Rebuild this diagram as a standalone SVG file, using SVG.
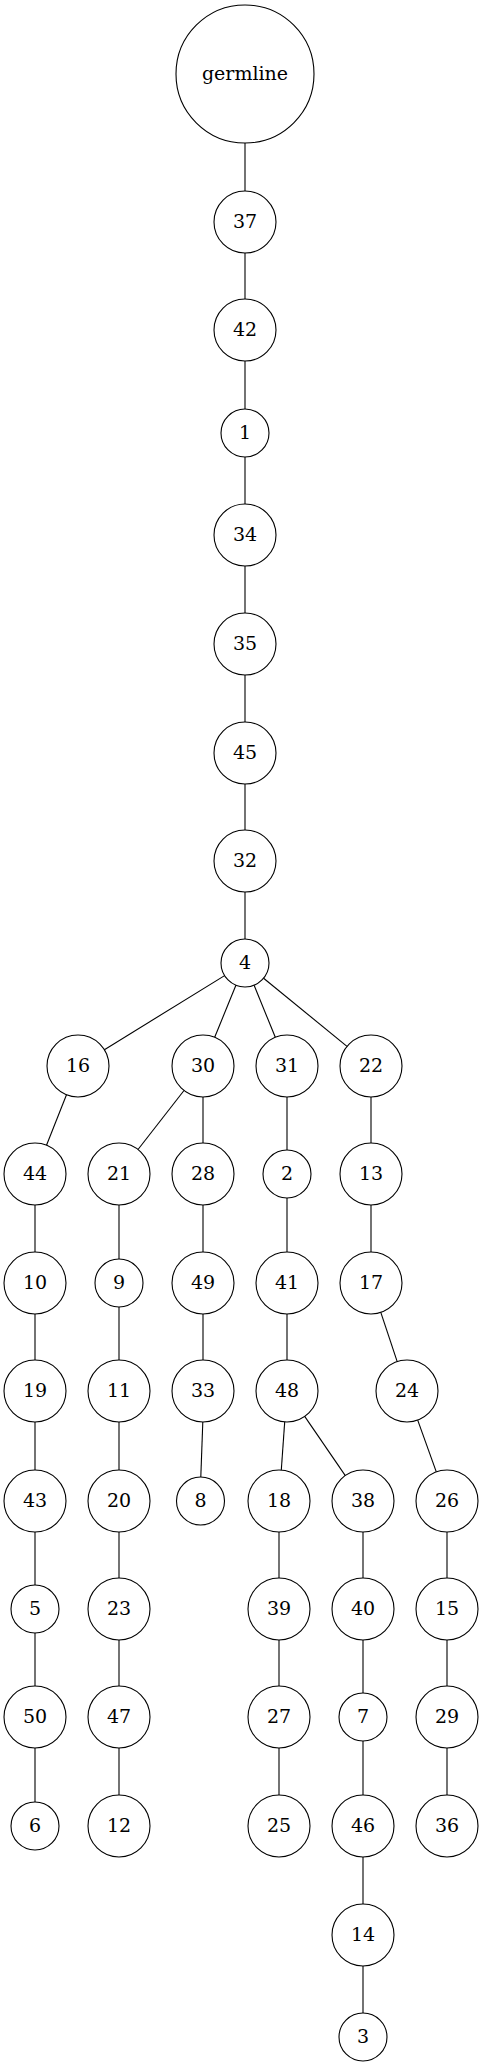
<svg xmlns="http://www.w3.org/2000/svg" width="483" height="2067" viewBox="0 0 483 2067">
<style>
.node circle{fill:none;stroke:#000;stroke-width:1.1}
.node text{font-family:"DejaVu Serif",serif;font-size:19px;text-anchor:middle;fill:#000}
.edges line{stroke:#000;stroke-width:1.1}
</style>
<rect width="483" height="2067" fill="#fff"/>
<g class="edges">
<line x1="245" y1="143" x2="245" y2="191"/>
<line x1="245" y1="253" x2="245" y2="299"/>
<line x1="245" y1="361" x2="245" y2="409"/>
<line x1="245" y1="457" x2="245" y2="504"/>
<line x1="245" y1="566" x2="245" y2="613"/>
<line x1="245" y1="675" x2="245" y2="722"/>
<line x1="245" y1="784" x2="245" y2="830"/>
<line x1="245" y1="892" x2="245" y2="939"/>
<line x1="224.6" y1="975.6" x2="104.4" y2="1049.7"/>
<line x1="235.9" y1="985.2" x2="214.7" y2="1037.3"/>
<line x1="254.1" y1="985.2" x2="275.3" y2="1037.3"/>
<line x1="263.6" y1="978.2" x2="347" y2="1046.4"/>
<line x1="66.5" y1="1094.8" x2="46.5" y2="1145.2"/>
<line x1="184" y1="1090.5" x2="138" y2="1149.5"/>
<line x1="203" y1="1097" x2="203" y2="1143"/>
<line x1="287" y1="1097" x2="287" y2="1150"/>
<line x1="371" y1="1097" x2="371" y2="1143"/>
<line x1="35" y1="1205" x2="35" y2="1252"/>
<line x1="119" y1="1205" x2="119" y2="1259"/>
<line x1="203" y1="1205" x2="203" y2="1252"/>
<line x1="287" y1="1198" x2="287" y2="1252"/>
<line x1="371" y1="1205" x2="371" y2="1252"/>
<line x1="35" y1="1314" x2="35" y2="1360"/>
<line x1="119" y1="1307" x2="119" y2="1360"/>
<line x1="203" y1="1314" x2="203" y2="1360"/>
<line x1="287" y1="1314" x2="287" y2="1360"/>
<line x1="380.8" y1="1312.4" x2="397.2" y2="1361.6"/>
<line x1="35" y1="1422" x2="35" y2="1470"/>
<line x1="119" y1="1422" x2="119" y2="1470"/>
<line x1="202.8" y1="1422" x2="200.8" y2="1477"/>
<line x1="284.7" y1="1421.9" x2="281.3" y2="1470"/>
<line x1="304.7" y1="1416.4" x2="345.3" y2="1475.6"/>
<line x1="417.7" y1="1420.1" x2="436.3" y2="1471.9"/>
<line x1="35" y1="1532" x2="35" y2="1585"/>
<line x1="119" y1="1532" x2="119" y2="1578"/>
<line x1="279" y1="1532" x2="279" y2="1578"/>
<line x1="363" y1="1532" x2="363" y2="1578"/>
<line x1="447" y1="1532" x2="447" y2="1578"/>
<line x1="35" y1="1633" x2="35" y2="1686"/>
<line x1="119" y1="1640" x2="119" y2="1686"/>
<line x1="279" y1="1640" x2="279" y2="1686"/>
<line x1="363" y1="1640" x2="363" y2="1693"/>
<line x1="447" y1="1640" x2="447" y2="1686"/>
<line x1="35" y1="1748" x2="35" y2="1802"/>
<line x1="119" y1="1748" x2="119" y2="1795"/>
<line x1="279" y1="1748" x2="279" y2="1795"/>
<line x1="363" y1="1741" x2="363" y2="1795"/>
<line x1="447" y1="1748" x2="447" y2="1795"/>
<line x1="363" y1="1857" x2="363" y2="1904"/>
<line x1="363" y1="1966" x2="363" y2="2013"/>
</g>
<g id="germline" class="node"><circle cx="245" cy="74" r="69"/><text x="245" y="80">germline</text></g>
<g id="n37" class="node"><circle cx="245" cy="222" r="31"/><text x="245" y="228">37</text></g>
<g id="n42" class="node"><circle cx="245" cy="330" r="31"/><text x="245" y="336">42</text></g>
<g id="n1" class="node"><circle cx="245" cy="433" r="24"/><text x="245" y="439">1</text></g>
<g id="n34" class="node"><circle cx="245" cy="535" r="31"/><text x="245" y="541">34</text></g>
<g id="n35" class="node"><circle cx="245" cy="644" r="31"/><text x="245" y="650">35</text></g>
<g id="n45" class="node"><circle cx="245" cy="753" r="31"/><text x="245" y="759">45</text></g>
<g id="n32" class="node"><circle cx="245" cy="861" r="31"/><text x="245" y="867">32</text></g>
<g id="n4" class="node"><circle cx="245" cy="963" r="24"/><text x="245" y="969">4</text></g>
<g id="n16" class="node"><circle cx="78" cy="1066" r="31"/><text x="78" y="1072">16</text></g>
<g id="n30" class="node"><circle cx="203" cy="1066" r="31"/><text x="203" y="1072">30</text></g>
<g id="n31" class="node"><circle cx="287" cy="1066" r="31"/><text x="287" y="1072">31</text></g>
<g id="n22" class="node"><circle cx="371" cy="1066" r="31"/><text x="371" y="1072">22</text></g>
<g id="n44" class="node"><circle cx="35" cy="1174" r="31"/><text x="35" y="1180">44</text></g>
<g id="n21" class="node"><circle cx="119" cy="1174" r="31"/><text x="119" y="1180">21</text></g>
<g id="n28" class="node"><circle cx="203" cy="1174" r="31"/><text x="203" y="1180">28</text></g>
<g id="n2" class="node"><circle cx="287" cy="1174" r="24"/><text x="287" y="1180">2</text></g>
<g id="n13" class="node"><circle cx="371" cy="1174" r="31"/><text x="371" y="1180">13</text></g>
<g id="n10" class="node"><circle cx="35" cy="1283" r="31"/><text x="35" y="1289">10</text></g>
<g id="n9" class="node"><circle cx="119" cy="1283" r="24"/><text x="119" y="1289">9</text></g>
<g id="n49" class="node"><circle cx="203" cy="1283" r="31"/><text x="203" y="1289">49</text></g>
<g id="n41" class="node"><circle cx="287" cy="1283" r="31"/><text x="287" y="1289">41</text></g>
<g id="n17" class="node"><circle cx="371" cy="1283" r="31"/><text x="371" y="1289">17</text></g>
<g id="n19" class="node"><circle cx="35" cy="1391" r="31"/><text x="35" y="1397">19</text></g>
<g id="n11" class="node"><circle cx="119" cy="1391" r="31"/><text x="119" y="1397">11</text></g>
<g id="n33" class="node"><circle cx="203" cy="1391" r="31"/><text x="203" y="1397">33</text></g>
<g id="n48" class="node"><circle cx="287" cy="1391" r="31"/><text x="287" y="1397">48</text></g>
<g id="n24" class="node"><circle cx="407" cy="1391" r="31"/><text x="407" y="1397">24</text></g>
<g id="n43" class="node"><circle cx="35" cy="1501" r="31"/><text x="35" y="1507">43</text></g>
<g id="n20" class="node"><circle cx="119" cy="1501" r="31"/><text x="119" y="1507">20</text></g>
<g id="n8" class="node"><circle cx="200.5" cy="1501" r="24"/><text x="200.5" y="1507">8</text></g>
<g id="n18" class="node"><circle cx="279" cy="1501" r="31"/><text x="279" y="1507">18</text></g>
<g id="n38" class="node"><circle cx="363" cy="1501" r="31"/><text x="363" y="1507">38</text></g>
<g id="n26" class="node"><circle cx="447" cy="1501" r="31"/><text x="447" y="1507">26</text></g>
<g id="n5" class="node"><circle cx="35" cy="1609" r="24"/><text x="35" y="1615">5</text></g>
<g id="n23" class="node"><circle cx="119" cy="1609" r="31"/><text x="119" y="1615">23</text></g>
<g id="n39" class="node"><circle cx="279" cy="1609" r="31"/><text x="279" y="1615">39</text></g>
<g id="n40" class="node"><circle cx="363" cy="1609" r="31"/><text x="363" y="1615">40</text></g>
<g id="n15" class="node"><circle cx="447" cy="1609" r="31"/><text x="447" y="1615">15</text></g>
<g id="n50" class="node"><circle cx="35" cy="1717" r="31"/><text x="35" y="1723">50</text></g>
<g id="n47" class="node"><circle cx="119" cy="1717" r="31"/><text x="119" y="1723">47</text></g>
<g id="n27" class="node"><circle cx="279" cy="1717" r="31"/><text x="279" y="1723">27</text></g>
<g id="n7" class="node"><circle cx="363" cy="1717" r="24"/><text x="363" y="1723">7</text></g>
<g id="n29" class="node"><circle cx="447" cy="1717" r="31"/><text x="447" y="1723">29</text></g>
<g id="n6" class="node"><circle cx="35" cy="1826" r="24"/><text x="35" y="1832">6</text></g>
<g id="n12" class="node"><circle cx="119" cy="1826" r="31"/><text x="119" y="1832">12</text></g>
<g id="n25" class="node"><circle cx="279" cy="1826" r="31"/><text x="279" y="1832">25</text></g>
<g id="n46" class="node"><circle cx="363" cy="1826" r="31"/><text x="363" y="1832">46</text></g>
<g id="n36" class="node"><circle cx="447" cy="1826" r="31"/><text x="447" y="1832">36</text></g>
<g id="n14" class="node"><circle cx="363" cy="1935" r="31"/><text x="363" y="1941">14</text></g>
<g id="n3" class="node"><circle cx="363" cy="2037" r="24"/><text x="363" y="2043">3</text></g>
</svg>
